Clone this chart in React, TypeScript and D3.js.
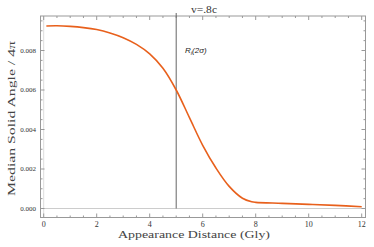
import React from "react";
import * as d3 from "d3";

const distances = [0.1, 0.5, 1.0, 1.5, 2.0, 2.5, 3.0, 3.5, 4.0, 4.5, 5.0, 5.5, 6.0, 6.5, 7.0, 7.5, 7.85, 8.0, 9.0, 10.0, 11.0, 12.0];
const angles = [0.00924, 0.00925, 0.00922, 0.00916, 0.00906, 0.00889, 0.00865, 0.00831, 0.00783, 0.0071, 0.006, 0.0046, 0.0032, 0.00205, 0.00112, 0.00052, 0.00034, 0.00031, 0.00026, 0.00021, 0.00016, 0.00009];
const xTicks = [0, 2, 4, 6, 8, 10, 12];
const yTicks = [0, 0.002, 0.004, 0.006, 0.008];
const markerX = 5;
const title = "v=.8c";
const xLabel = "Appearance Distance (Gly)";
const yLabel = "Median Solid Angle / 4\u03C0";

export default function App() {
  const W = 374, H = 247;
  const L = 40.5, R = 365.5, T = 16, B = 217.5;
  const x = d3.scaleLinear().domain([0, 12]).range([43.7, 361.7]);
  const y = d3.scaleLinear().domain([0, 0.008]).range([208.5, 50.5]);
  const xMinor = d3.range(-0.0, 12.01, 0.5).filter(v => Math.abs(v % 2) > 1e-6);
  const yMinor = d3.range(0, 0.00975, 0.0005).filter(v => Math.abs((v / 0.002) - Math.round(v / 0.002)) > 1e-6);
  const data = distances.map((d, i) => [d, angles[i]] as [number, number]);
  const line = d3.line<[number, number]>().x(d => x(d[0])).y(d => y(d[1])).curve(d3.curveCatmullRom.alpha(0.5));
  const frameColor = "#999";
  const maj = 4, min = 2;
  return (
    <svg width={W} height={H} style={{ position: "absolute", left: 0, top: 0 }}>
      <rect x={0} y={0} width={W} height={H} fill="#fff" />
      <line x1={L} x2={R} y1={y(0)} y2={y(0)} stroke="#ccc" strokeWidth={1} />
      <line x1={x(0)} x2={x(0)} y1={T} y2={B} stroke="#ddd" strokeWidth={1} />
      <rect x={L} y={T} width={R - L} height={B - T} fill="none" stroke={frameColor} strokeWidth={1} />
      {xTicks.map(t => (
        <g key={"xt" + t}>
          <line x1={x(t)} x2={x(t)} y1={B} y2={B - maj} stroke={frameColor} />
          <line x1={x(t)} x2={x(t)} y1={T} y2={T + maj} stroke={frameColor} />
          <text x={x(t)} y={227} fontSize={8} fontFamily="Liberation Serif" textAnchor="middle" fill="#333">{t}</text>
        </g>
      ))}
      {xMinor.map(t => (
        <g key={"xm" + t}>
          <line x1={x(t)} x2={x(t)} y1={B} y2={B - min} stroke={frameColor} />
          <line x1={x(t)} x2={x(t)} y1={T} y2={T + min} stroke={frameColor} />
        </g>
      ))}
      {yTicks.map(t => (
        <g key={"yt" + t}>
          <line x1={L} x2={L + maj} y1={y(t)} y2={y(t)} stroke={frameColor} />
          <line x1={R} x2={R - maj} y1={y(t)} y2={y(t)} stroke={frameColor} />
          <text x={36} y={y(t)} dy="0.33em" fontSize={7} fontFamily="Liberation Serif" textAnchor="end" fill="#333">{t.toFixed(3)}</text>
        </g>
      ))}
      {yMinor.map(t => (
        <g key={"ym" + t}>
          <line x1={L} x2={L + min} y1={y(t)} y2={y(t)} stroke={frameColor} />
          <line x1={R} x2={R - min} y1={y(t)} y2={y(t)} stroke={frameColor} />
        </g>
      ))}
      <line x1={x(markerX)} x2={x(markerX)} y1={13} y2={y(0)} stroke="#666" strokeWidth={1} />
      <path d={line(data) || ""} fill="none" stroke="#E8601C" strokeWidth={1.6} />
      <text x={191} y={13} fontSize={10.5} fontFamily="Liberation Serif" textLength={26} lengthAdjust="spacingAndGlyphs" fill="#333">{title}</text>
      <text x={185} y={53} fontSize={8} fontFamily="Liberation Sans" fontStyle="italic" fill="#222">
        R<tspan fontSize={5.5} dy={1.5}>i</tspan><tspan dy={-1.5}>(2σ)</tspan>
      </text>
      <text x={118} y={238} fontSize={11} fontFamily="Liberation Serif" textLength={152} lengthAdjust="spacingAndGlyphs" fill="#444">{xLabel}</text>
      <text transform="translate(15,196) rotate(-90)" fontSize={11} fontFamily="Liberation Serif" textLength={155} lengthAdjust="spacingAndGlyphs" fill="#444">{yLabel}</text>
    </svg>
  );
}
